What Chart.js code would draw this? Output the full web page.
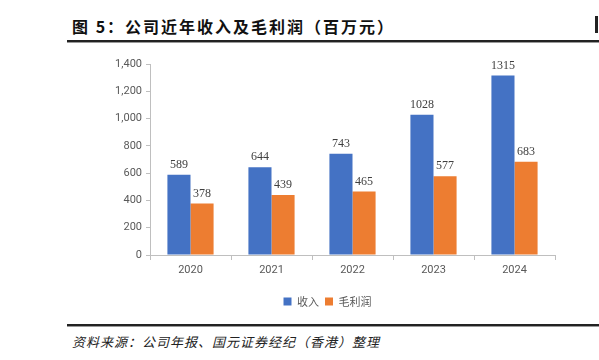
<!DOCTYPE html>
<html><head><meta charset="utf-8">
<script src="https://cdn.jsdelivr.net/npm/chart.js@4.4.0/dist/chart.umd.min.js"></script>
<style>
html,body{margin:0;padding:0;background:#fff;width:599px;height:360px;overflow:hidden;position:relative;}
#title{position:absolute;left:72px;top:14px;font:bold 16px "Noto Sans CJK SC",serif;color:#111;letter-spacing:2px;white-space:nowrap;}
.rule{position:absolute;left:67px;right:0;height:2px;background:#222;border-bottom:1px solid #999;}
#foot{position:absolute;left:72px;top:332px;font:italic 13px "Noto Sans CJK SC",serif;color:#222;letter-spacing:1px;white-space:nowrap;}
#edge{position:absolute;left:595px;top:16px;width:3px;height:17px;background:#222;}
#wrap{position:absolute;left:0;top:45px;width:599px;height:272px;}
</style></head>
<body>
<div id="title">图 5：公司近年收入及毛利润（百万元）</div>
<div class="rule" style="top:40px"></div>
<div id="edge"></div>
<div id="wrap"><canvas id="c" width="599" height="272"></canvas></div>
<div class="rule" style="top:324px"></div>
<div id="foot">资料来源：公司年报、国元证券经纪（香港）整理</div>
<script>
const categories = ['2020','2021','2022','2023','2024'];
const revenue = [589, 644, 743, 1028, 1315];
const grossProfit = [378, 439, 465, 577, 683];
const seriesNames = ['收入','毛利润'];

const labelPlugin = {
  id:'barLabels',
  afterDatasetsDraw(chart){
    const ctx = chart.ctx;
    ctx.save();
    ctx.font = '12px "Liberation Serif", "Times New Roman", serif';
    ctx.fillStyle = '#404040';
    ctx.textAlign = 'center';
    ctx.textBaseline = 'bottom';
    chart.data.datasets.forEach((ds,i)=>{
      const meta = chart.getDatasetMeta(i);
      meta.data.forEach((bar,j)=>{
        ctx.fillText(String(ds.data[j]), bar.x, bar.y - 4);
      });
    });
    ctx.restore();
  }
};

new Chart(document.getElementById('c'), {
  type:'bar',
  data:{
    labels:categories,
    datasets:[
      {label:seriesNames[0], data:revenue, backgroundColor:'#4472C4', categoryPercentage:0.57, barPercentage:1},
      {label:seriesNames[1], data:grossProfit, backgroundColor:'#ED7D31', categoryPercentage:0.57, barPercentage:1}
    ]
  },
  options:{
    responsive:false,
    animation:false,
    layout:{padding:{left:100,right:44,top:19,bottom:0}},
    plugins:{
      tooltip:{enabled:false},
      legend:{
        position:'bottom',
        labels:{boxWidth:8,boxHeight:8,padding:6,color:'#595959',font:{size:11,family:'"Noto Sans CJK SC", serif'}}
      }
    },
    scales:{
      x:{
        grid:{display:true,drawOnChartArea:false,tickLength:5,color:'#bfbfbf'},
        border:{color:'#bfbfbf'},
        ticks:{color:'#595959',font:{size:11,family:'Roboto, "Liberation Sans", sans-serif'},padding:4},
        afterFit(s){s.height=35;}
      },
      y:{
        min:0,max:1400,
        ticks:{stepSize:200,color:'#595959',font:{size:11,family:'Roboto, "Liberation Sans", sans-serif'},padding:4,
          callback:v=>v.toLocaleString('en-US')},
        grid:{display:true,drawOnChartArea:false,tickLength:4,color:'#bfbfbf'},
        border:{color:'#bfbfbf'},
        afterFit(s){s.width=50;}
      }
    }
  },
  plugins:[labelPlugin]
});
</script>
</body></html>
